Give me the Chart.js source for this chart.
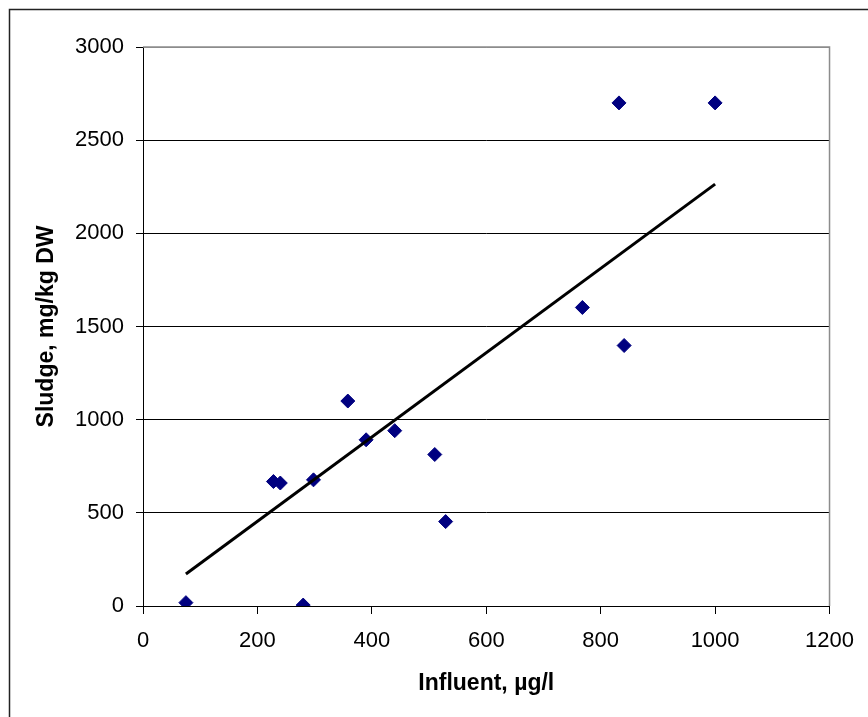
<!DOCTYPE html>
<html>
<head>
<meta charset="utf-8">
<script src="https://cdn.jsdelivr.net/npm/chart.js@4/dist/chart.umd.min.js"></script>
<style>
  html, body { margin: 0; padding: 0; background: #fff; }
  #wrap { width: 868px; height: 717px; }
</style>
</head>
<body>
<div id="wrap"><canvas id="sludgeChart" width="868" height="717"></canvas></div>
<script>
// 読み取った値
const influent = [75, 228, 240, 280, 298, 358, 390, 440, 510, 529, 768, 832, 841, 1000];
const sludge = [18, 668, 660, 5, 677, 1100, 892, 941, 813, 453, 1602, 2700, 1398, 2700];
// 近似直線（両端）
const trendX = [75, 1000];
const trendY = [172, 2264];
const xTicks = [0, 200, 400, 600, 800, 1000, 1200];
const yTicks = [0, 500, 1000, 1500, 2000, 2500, 3000];

// 外枠とプロットエリアの上・右の枠線
const framePlugin = {
    id: 'frame',
    beforeDraw(chart) {
        const ctx = chart.ctx;
        ctx.save();
        ctx.strokeStyle = '#222';
        ctx.lineWidth = 1.5;
        ctx.beginPath();
        ctx.moveTo(9.5, 717);
        ctx.lineTo(9.5, 9.5);
        ctx.lineTo(868, 9.5);
        ctx.stroke();
        ctx.restore();
    },
    beforeDatasetsDraw(chart) {
        const a = chart.chartArea;
        const ctx = chart.ctx;
        ctx.save();
        ctx.strokeStyle = '#8c8c8c';
        ctx.lineWidth = 1.5;
        ctx.beginPath();
        ctx.moveTo(a.left, a.top);
        ctx.lineTo(a.right, a.top);
        ctx.lineTo(a.right, a.bottom);
        ctx.stroke();
        ctx.restore();
    }
};

const ctx = document.getElementById('sludgeChart').getContext('2d');
const chart = new Chart(ctx, {
    type: 'scatter',
    data: {
        datasets: [
            {
                type: 'line',
                data: trendX.map((x, i) => ({ x: x, y: trendY[i] })),
                borderColor: '#000',
                borderWidth: 3,
                pointRadius: 0,
                fill: false
            },
            {
                data: influent.map((x, i) => ({ x: x, y: sludge[i] })),
                pointStyle: 'rectRot',
                pointRadius: 7,
                backgroundColor: '#000080',
                borderColor: '#000080',
                borderWidth: 1
            }
        ]
    },
    options: {
        responsive: false,
        animation: false,
        layout: { padding: { left: 0, top: 47, right: 36, bottom: 0 } },
        plugins: {
            legend: { display: false },
            tooltip: { enabled: false }
        },
        scales: {
            x: {
                type: 'linear',
                min: 0,
                max: 1200,
                afterBuildTicks: (scale) => { scale.ticks = xTicks.map(v => ({ value: v })); },
                afterFit: (scale) => { scale.height = 111; },
                grid: { drawOnChartArea: false, tickLength: 8, tickColor: '#000' },
                border: { color: '#000', width: 1 },
                ticks: {
                    color: '#000',
                    padding: 14,
                    callback: (v) => String(v),
                    font: { family: 'Liberation Sans, Arial, sans-serif', size: 22 }
                },
                title: {
                    display: true,
                    text: 'Influent, µg/l',
                    color: '#000',
                    padding: { top: 0, bottom: 20 },
                    font: { family: 'Liberation Sans, Arial, sans-serif', size: 23, weight: 'bold' }
                }
            },
            y: {
                type: 'linear',
                min: 0,
                max: 3000,
                afterBuildTicks: (scale) => { scale.ticks = yTicks.map(v => ({ value: v })); },
                afterFit: (scale) => { scale.width = 143; },
                grid: {
                    color: (c) => (c.tick && c.tick.value === 3000 ? '#8c8c8c' : '#000'),
                    tickColor: '#000',
                    tickLength: 7
                },
                border: { color: '#000', width: 1 },
                ticks: {
                    color: '#000',
                    padding: 12,
                    callback: (v) => String(v),
                    font: { family: 'Liberation Sans, Arial, sans-serif', size: 22 }
                },
                title: {
                    display: true,
                    text: 'Sludge, mg/kg DW',
                    color: '#000',
                    padding: { top: 33, bottom: 0 },
                    font: { family: 'Liberation Sans, Arial, sans-serif', size: 23, weight: 'bold' }
                }
            }
        }
    },
    plugins: [framePlugin]
});
</script>
</body>
</html>
